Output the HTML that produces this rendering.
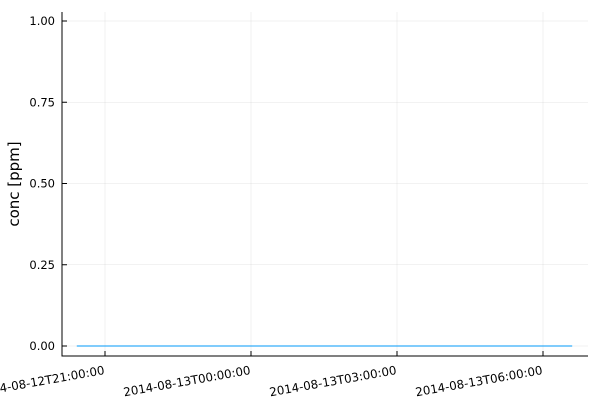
<!DOCTYPE html>
<html><head><meta charset="utf-8"><style>body{margin:0;background:#fff}svg{display:block;font-family:"DejaVu Sans","Liberation Sans",sans-serif}</style></head>
<body>
<svg id="chart" width="600" height="400"></svg>
<script>
const timesHours = [20.42, 21.5, 23, 0.5+24, 2+24, 3.5+24, 5+24, 6.6+24];
const concValues = [0, 0, 0, 0, 0, 0, 0, 0];
const xTickHours = [21, 24, 27, 30];
const xTickLabels = ["2014-08-12T21:00:00","2014-08-13T00:00:00","2014-08-13T03:00:00","2014-08-13T06:00:00"];
const yTicks = [0, 0.25, 0.5, 0.75, 1.0];
const yTickLabels = ["0.00","0.25","0.50","0.75","1.00"];
const NS="http://www.w3.org/2000/svg", svg=document.getElementById('chart');
const L=62,R=588,T=12,B=356;
const xs=h=>105+(h-21)*(146/3);
const ys=v=>346-v*325;
function el(t,a,p){const e=document.createElementNS(NS,t);for(const k in a)e.setAttribute(k,a[k]);(p||svg).appendChild(e);return e;}
yTicks.forEach((v,i)=>{
 const g=el('line',{x1:L,x2:R,y1:ys(v),y2:ys(v),stroke:'#000','stroke-opacity':0.1,'stroke-width':0.5});
 
 
 el('line',{x1:L,x2:L+5,y1:ys(v),y2:ys(v),stroke:'#000','stroke-width':1});
 const t=el('text',{x:L-7,y:ys(v)+4,'text-anchor':'end','font-size':11.5});
 t.textContent=yTickLabels[i];
 
 
});
xTickHours.forEach((h,i)=>{
 const g=el('line',{x1:xs(h),x2:xs(h),y1:T,y2:B,stroke:'#000','stroke-opacity':0.1,'stroke-width':0.5});
 
 
 el('line',{x1:xs(h),x2:xs(h),y1:B,y2:B-5,stroke:'#000','stroke-width':1});
 const t=el('text',{x:xs(h),y:B+18,'text-anchor':'end','font-size':11.8,transform:`rotate(-10 ${xs(h)} ${B+18})`});
 t.textContent=xTickLabels[i];
 
 
});
const ax=el('path',{d:`M${L},${T}V${B}H${R}`,fill:'none',stroke:'#000','stroke-width':1});


const yt=el('text',{x:19,y:(T+B)/2,'text-anchor':'middle','font-size':15,transform:`rotate(-90 19 ${(T+B)/2})`});
yt.textContent='conc [ppm]';


const line=el('polyline',{points:timesHours.map((h,i)=>xs(h)+','+ys(concValues[i])).join(' '),fill:'none',stroke:'#009af9','stroke-width':1});


</script>
</body></html>
